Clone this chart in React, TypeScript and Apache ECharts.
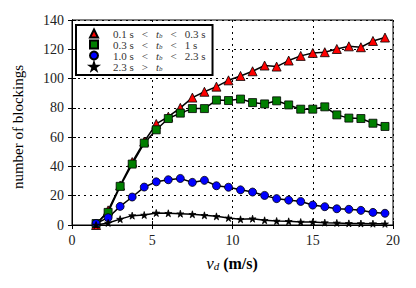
import React, { useEffect, useRef } from "react";
import * as echarts from "echarts";

const xs = [1.5, 2.25, 3, 3.75, 4.5, 5.25, 6, 6.75, 7.5, 8.25, 9, 9.75, 10.5, 11.25, 12, 12.75, 13.5, 14.25, 15, 15.75, 16.5, 17.25, 18, 18.75, 19.5];
const redVals = [0, 10, 27, 43, 57, 69, 74, 80, 87, 91, 94.5, 98.8, 101.8, 105, 108.9, 108.2, 112.3, 115.5, 117.5, 118, 120.2, 122, 121.4, 125.7, 128];
const greenVals = [1, 8.6, 26.4, 41.6, 55.9, 65, 72.7, 76.4, 79.5, 79.5, 85.3, 85, 86, 83.6, 82.7, 84.8, 82, 79.1, 79.1, 80.7, 75.2, 73, 72.7, 69.5, 67.3];
const blueVals = [1, 5, 12.7, 19.1, 25.9, 29.5, 30.9, 31.8, 29.1, 30.5, 26.8, 25.8, 24, 22.5, 20.2, 18, 17, 16.1, 13.6, 12.5, 11.1, 10.7, 10, 8.6, 8];
const blackVals = [0, 1.4, 4, 6.4, 6.8, 8.2, 8, 7.7, 7.3, 6.6, 5.9, 4.8, 3.9, 4.3, 3.2, 2.7, 2.5, 2, 2, 1.6, 1.4, 1.1, 1, 0.9, 0.8];

const seriesNames = ["r", "g", "b", "k"];
// [left bound, operator, right operator, right bound]
const legendParts: Record<string, [string, string, string, string]> = {
  r: ["0.1 s", "<", "<", "0.3 s"],
  g: ["0.3 s", "<", "<", "1 s"],
  b: ["1.0 s", "<", "<", "2.3 s"],
  k: ["2.3 s", ">", "", ""],
};
const xTicks = [0, 20, 5];
const yTicks = [0, 140, 20];

const STAR = "path://M50,0 L61,35 L98,35 L68,57 L79,91 L50,70 L21,91 L32,57 L2,35 L39,35 Z";
const FONT = "'Liberation Serif', 'DejaVu Serif', serif";

export default function App() {
  const ref = useRef<HTMLDivElement>(null);
  useEffect(() => {
    document.body.style.margin = "0";
    const chart = echarts.init(ref.current!, undefined, { renderer: "svg" });
    const pair = (vals: number[]) => xs.map((x, i) => [x, vals[i]]);
    const gridLine = { show: true, lineStyle: { color: "#000", type: [2, 4], width: 1 } };
    const baseAxis = {
      axisLine: { show: true, lineStyle: { color: "#000", width: 1 } },
      axisTick: { show: true, inside: true, length: 4, lineStyle: { color: "#000" } },
    };
    const mk = (name: string, vals: number[], symbol: string, color: string, size: number) => ({
      name,
      type: "line",
      data: pair(vals),
      symbol,
      symbolSize: size,
      showAllSymbol: true,
      lineStyle: { color: "#000", width: 1.5 },
      itemStyle: { color, borderColor: "#000", borderWidth: 0.8 },
      z: 3,
    });
    const tc = "#333";
    const LH = 11;
    chart.setOption({
      animation: false,
      textStyle: { fontFamily: FONT },
      grid: { left: 72, right: 23, top: 20, bottom: 63, show: true, borderColor: "#000", borderWidth: 1 },
      xAxis: [
        {
          ...baseAxis,
          type: "value",
          min: xTicks[0],
          max: xTicks[1],
          interval: xTicks[2],
          splitLine: gridLine,
          axisLabel: { color: "#222", fontSize: 14, fontFamily: FONT, margin: 8 },
        },
        {
          ...baseAxis,
          type: "value",
          position: "top",
          min: xTicks[0],
          max: xTicks[1],
          interval: xTicks[2],
          splitLine: { show: false },
          axisLabel: { show: false },
        },
      ],
      yAxis: [
        {
          ...baseAxis,
          type: "value",
          min: yTicks[0],
          max: yTicks[1],
          interval: yTicks[2],
          splitLine: gridLine,
          axisLabel: { color: "#222", fontSize: 14, fontFamily: FONT, margin: 8 },
        },
        {
          ...baseAxis,
          type: "value",
          position: "right",
          min: yTicks[0],
          max: yTicks[1],
          interval: yTicks[2],
          splitLine: { show: false },
          axisLabel: { show: false },
        },
      ],
      legend: {
        left: 76,
        top: 25,
        orient: "vertical",
        backgroundColor: "#fff",
        borderColor: "#000",
        borderWidth: 2,
        borderRadius: 0,
        padding: [3, 7, 3, 13],
        itemGap: 0,
        itemWidth: 8,
        itemHeight: 8,
        data: [
          { name: "r", icon: "triangle" },
          { name: "g", icon: "rect" },
          { name: "b", icon: "circle" },
          { name: "k", icon: STAR },
        ],
        formatter: (name: string) => {
          const p = legendParts[name];
          let s = `{g| }{n|${p[0]}}{o|${p[1]}}{i|t}{s|b}`;
          if (p[2]) s += `{o|${p[2]}}{n|${p[3]}}`;
          return s;
        },
        textStyle: {
          color: tc,
          fontSize: 11,
          lineHeight: LH,
          fontFamily: FONT,
          rich: {
            g: { width: 10, fontSize: 11, lineHeight: LH },
            n: { fontSize: 11, fontFamily: FONT, color: tc, lineHeight: LH },
            o: { fontSize: 11, fontFamily: FONT, color: tc, lineHeight: LH, padding: [0, 8, 0, 8] },
            i: { fontSize: 11, fontFamily: FONT, fontStyle: "italic", color: tc, lineHeight: LH },
            s: { fontSize: 7, fontFamily: FONT, fontStyle: "italic", color: tc, lineHeight: LH, verticalAlign: "bottom" },
          },
        },
      },
      series: [
        mk(seriesNames[0], redVals, "triangle", "#ff0000", 9),
        mk(seriesNames[1], greenVals, "rect", "#007f00", 8),
        mk(seriesNames[2], blueVals, "circle", "#0000ff", 8),
        mk(seriesNames[3], blackVals, STAR, "#000000", 7),
      ],
      graphic: [
        {
          type: "text",
          x: 18,
          y: 127,
          rotation: Math.PI / 2,
          style: {
            text: "number of blockings",
            font: `15px ${FONT}`,
            fill: "#000",
            align: "center",
            verticalAlign: "middle",
          },
        },
        {
          type: "text",
          x: 232,
          y: 263,
          style: {
            text: "{i|v}{s|d}{n| (m/s)}",
            align: "center",
            verticalAlign: "middle",
            rich: {
              i: { fontSize: 17, fontFamily: FONT, fontStyle: "italic", fill: "#000" },
              s: { fontSize: 11, fontFamily: FONT, fontStyle: "italic", fill: "#000", padding: [6, 0, 0, 0] },
              n: { fontSize: 16, fontFamily: FONT, fontWeight: "bold", fill: "#000" },
            },
          },
        },
      ],
    });
    return () => chart.dispose();
  }, []);
  return <div ref={ref} style={{ width: 416, height: 288 }} />;
}
